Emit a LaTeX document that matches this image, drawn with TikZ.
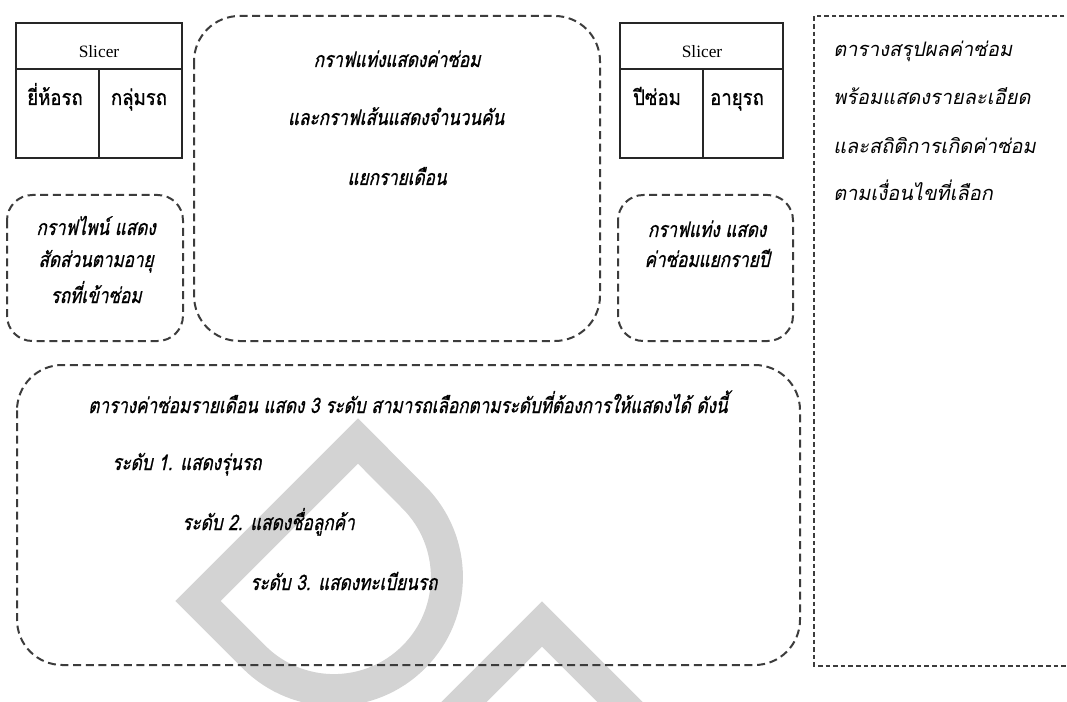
\documentclass[tikz,border=0pt]{standalone}
\usepackage{fontspec}
\setmainfont{Liberation Serif}
\newfontfamily\thaiup[Script=Thai,FakeStretch=0.87,FakeBold=0.8]{Loma}
\newfontfamily\thaicond[Script=Thai,FakeStretch=0.8,FakeSlant=0.22,FakeBold=0.8]{Loma}
\newfontfamily\thaiit[Script=Thai,FakeSlant=0.2]{Loma}
\definecolor{markgray}{RGB}{211,211,211}
\definecolor{dashgray}{RGB}{60,60,60}
\tikzset{
  x=0.75pt, y=0.75pt,
  dbox/.style={draw=dashgray, line width=1.5pt, dash pattern=on 6pt off 3.5pt, rounded corners=#1},
  dbox/.default=34pt,
  slicerbox/.style={draw=black!85, line width=1.2pt},
  lbl/.style={inner sep=0pt, font=\thaicond\fontsize{16}{18}\selectfont},
  uplbl/.style={inner sep=0pt, font=\thaiup\fontsize{16}{18}\selectfont},
  notelbl/.style={inner sep=0pt, anchor=base west, font=\thaiit\fontsize{15}{17}\selectfont},
  sliceron/.style={inner sep=0pt, font=\fontsize{13}{15}\selectfont},
}
\begin{document}
\begin{tikzpicture}
\fill[white] (0,0) rectangle (1067,-702);
\useasboundingbox (0,0) rectangle (1067,-702);

% background mark
\begin{scope}
\clip (0,0) rectangle (1067,-702);
\draw[markgray, line width=24pt, line join=miter]
  (358,-441) -- (198,-601) -- (254,-657)
  arc[start angle=225, end angle=405, radius=84.75pt] -- cycle;
\draw[markgray, line width=24pt, line join=miter]
  (432,-734) -- (542,-624) -- (652,-734);
\end{scope}

% slicer 1
\draw[slicerbox] (16,-23) rectangle (182,-158);
\coordinate (s1l) at (16,-69); \coordinate (s1r) at (182,-69);
\coordinate (s1t) at (99,-69); \coordinate (s1b) at (99,-158);
\draw[slicerbox] (s1l) -- (s1r) (s1t) -- (s1b);
\node[sliceron, anchor=base] (s1title) at (99,-58) {Slicer};
\node[uplbl, anchor=base] (s1a) at (55,-105) {ยี่ห้อรถ};
\node[uplbl, anchor=base] (s1b) at (139,-105) {กลุ่มรถ};

% slicer 2
\draw[slicerbox] (620,-23) rectangle (783,-158);
\coordinate (s2l) at (620,-69); \coordinate (s2r) at (783,-69);
\coordinate (s2t) at (703,-69); \coordinate (s2b) at (703,-158);
\draw[slicerbox] (s2l) -- (s2r) (s2t) -- (s2b);
\node[sliceron, anchor=base] (s2title) at (702,-58) {Slicer};
\node[uplbl, anchor=base] (s2a) at (657,-105) {ปีซ่อม};
\node[uplbl, anchor=base] (s2b) at (737,-105) {อายุรถ};

% monthly chart
\draw[dbox] (194,-16) rectangle (600,-341);
\node[lbl, anchor=base] (c1) at (397,-67) {กราฟแท่งแสดงค่าซ่อม};
\node[lbl, anchor=base] (c2) at (396,-125) {และกราฟเส้นแสดงจำนวนคัน};
\node[lbl, anchor=base] (c3) at (397,-185) {แยกรายเดือน};

% pie chart
\draw[dbox=19pt] (7,-195) rectangle (183,-341);
\node[lbl, anchor=base] (p1) at (96,-235) {กราฟไพน์ แสดง};
\node[lbl, anchor=base] (p2) at (96,-267) {สัดส่วนตามอายุ};
\node[lbl, anchor=base] (p3) at (96,-303) {รถที่เข้าซ่อม};

% yearly bar chart
\draw[dbox=19pt] (618,-195) rectangle (793,-341);
\node[lbl, anchor=base] (y1) at (707,-237) {กราฟแท่ง แสดง};
\node[lbl, anchor=base] (y2) at (707,-267) {ค่าซ่อมแยกรายปี};

% monthly table
\draw[dbox] (17,-365) rectangle (800,-665);
\node[lbl, anchor=base west] (t0) at (88,-413) {ตารางค่าซ่อมรายเดือน แสดง 3 ระดับ สามารถเลือกตามระดับที่ต้องการให้แสดงได้ ดังนี้};
\node[lbl, anchor=base west] (t1) at (112,-470) {ระดับ 1. แสดงรุ่นรถ};
\node[lbl, anchor=base west] (t2) at (182,-530) {ระดับ 2. แสดงชื่อลูกค้า};
\node[lbl, anchor=base west] (t3) at (250,-590) {ระดับ 3. แสดงทะเบียนรถ};

% summary table
\coordinate (r1) at (1072,-16); \coordinate (r2) at (814,-16);
\coordinate (r3) at (814,-666); \coordinate (r4) at (1072,-666);
\draw[draw=dashgray, line width=0.9pt, dash pattern=on 3.5pt off 2.2pt] (r1) -- (r2) -- (r3) -- (r4);
\node[notelbl] (n1) at (833,-57) {ตารางสรุปผลค่าซ่อม};
\node[notelbl] (n2) at (833,-105) {พร้อมแสดงรายละเอียด};
\node[notelbl] (n3) at (833,-154) {และสถิติการเกิดค่าซ่อม};
\node[notelbl] (n4) at (833,-201) {ตามเงื่อนไขที่เลือก};
\end{tikzpicture}
\end{document}
